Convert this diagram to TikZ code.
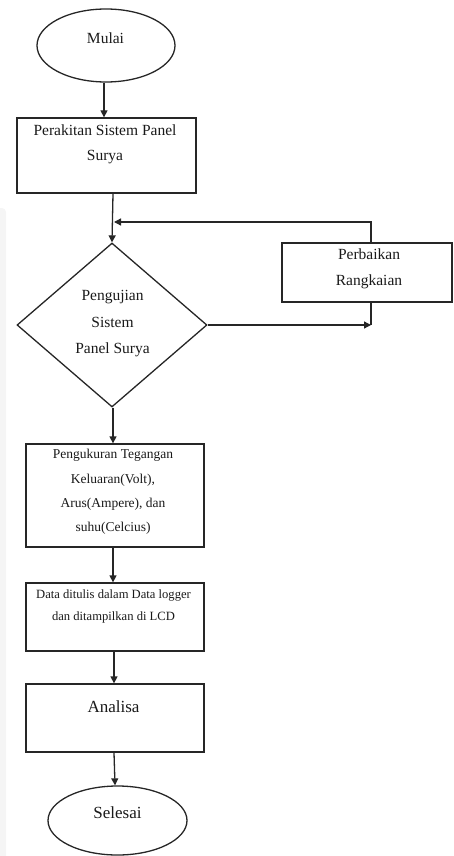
\documentclass[tikz,border=0pt]{standalone}
\usepackage{fontspec}
\setmainfont{Liberation Serif}
\usetikzlibrary{arrows.meta,shapes.geometric}
\tikzset{
  shp/.style={draw=black!85, line width=1.3pt, inner sep=0pt},
  oval/.style={shp, ellipse},
  txt/.style={align=center, inner sep=0pt, text=black!90},
  arr/.style={draw=black!85, line width=1.3pt, -{Triangle[length=7pt,width=7pt]}},
  ln/.style={draw=black!85, line width=1.3pt},
}
\begin{document}
\begin{tikzpicture}[x=1pt,y=-1pt]
\useasboundingbox (0,0) rectangle (454,856);
% faint strip at left edge
\fill[black!4, rounded corners=4pt] (-6,208) rectangle (6,860);
% shapes
\node[oval, minimum width=138pt, minimum height=73pt] (mulai) at (106,45.5) {};
\node[txt, font=\fontsize{15.5}{18}\selectfont] (tmulai) at (105.5,38) {Mulai};

\node[shp, minimum width=179pt, minimum height=75pt] (box1) at (106.5,155.5) {};
\node[txt, font=\fontsize{15.5}{25}\selectfont] (tbox1) at (105,144) {Perakitan Sistem Panel\\Surya};

\node[shp, diamond, minimum width=190pt, minimum height=164pt] (dec) at (112,325) {};
\node[txt, font=\fontsize{15.5}{26.5}\selectfont] (tdec) at (112.5,324) {Pengujian\\Sistem\\Panel Surya};

\node[shp, minimum width=170pt, minimum height=59pt] (fix) at (367,272.5) {};
\node[txt, font=\fontsize{15.5}{26}\selectfont] (tfix) at (369,268.5) {Perbaikan\\Rangkaian};

\node[shp, minimum width=178pt, minimum height=103pt] (box3) at (115,495.5) {};
\node[txt, font=\fontsize{13.5}{24.3}\selectfont] (tbox3) at (113,492) {Pengukuran Tegangan\\Keluaran(Volt),\\Arus(Ampere), dan\\suhu(Celcius)};

\node[shp, minimum width=178pt, minimum height=68pt] (box4) at (115,617) {};
\node[txt, font=\fontsize{12.6}{22}\selectfont] (tbox4) at (113.5,606.5) {Data ditulis dalam Data logger\\dan ditampilkan di LCD};

\node[shp, minimum width=178pt, minimum height=68pt] (box5) at (115,718) {};
\node[txt, font=\fontsize{17}{20}\selectfont] (tbox5) at (113.5,707) {Analisa};

\node[oval, minimum width=139pt, minimum height=69pt] (selesai) at (117.5,820.5) {};
\node[txt, font=\fontsize{17}{20}\selectfont] (tsel) at (117.5,813) {Selesai};

% connectors
\draw[arr] ([xshift=-2pt]mulai.south) -- ([xshift=-2.5pt]box1.north);
\draw[arr] ([xshift=6.5pt]box1.south) -- (dec.north);
\coordinate (fbtop) at (371,222);
\coordinate (fbend) at (114,222);
\draw[arr] (fix.north -| fbtop) -- (fbtop) -- (fbend);
\coordinate (rcorner) at (371,325);
\draw[arr] (dec.east) -- (rcorner);
\draw[ln] (fix.south -| rcorner) -- (rcorner);
\draw[arr] ([xshift=1pt]dec.south) -- ([xshift=-2pt]box3.north);
\draw[arr] ([xshift=-2pt]box3.south) -- ([xshift=-2pt]box4.north);
\draw[arr] ([xshift=-1pt]box4.south) -- ([xshift=-1pt]box5.north);
\draw[arr] ([xshift=-1pt]box5.south) -- (selesai.north -| box5.south);
\end{tikzpicture}
\end{document}
